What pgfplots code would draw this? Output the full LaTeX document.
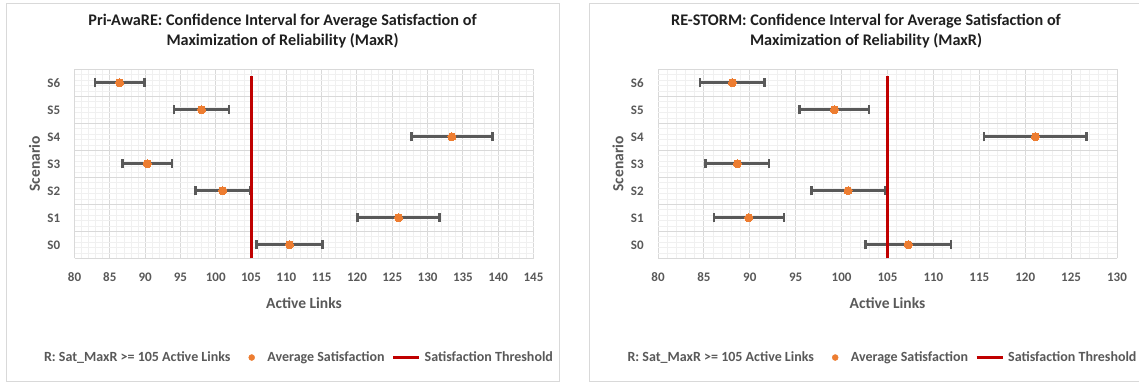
\documentclass[border=0pt]{standalone}
\usepackage{pgfplots}
\pgfplotsset{compat=1.18}
\usepackage{pgfplotstable}
\usepackage{fontspec}
\setmainfont{Carlito}

\definecolor{txtgray}{HTML}{595959}
\definecolor{titletxt}{HTML}{1F1F1F}
\definecolor{gridmaj}{HTML}{D9D9D9}
\definecolor{gridmin}{HTML}{F0F0F0}
\definecolor{dotorange}{HTML}{ED7D31}
\definecolor{threshred}{HTML}{C00000}
\definecolor{barsgray}{HTML}{595959}
\definecolor{framegray}{HTML}{D9D9D9}

% scenario position, mean, half width of the confidence interval
\pgfplotstableread{
y   m       h
0.5 110.45  4.65
1.5 125.9   5.8
2.5 101.0   3.9
3.5 90.3    3.5
4.5 133.45  5.75
5.5 98.0    3.9
6.5 86.4    3.5
}\priaware

\pgfplotstableread{
y   m       h
0.5 107.25  4.65
1.5 89.9    3.8
2.5 100.7   4.0
3.5 88.65   3.45
4.5 121.1   5.6
5.5 99.2    3.8
6.5 88.1    3.5
}\restorm

\pgfplotsset{
  cichart/.style={
    scale only axis, width=459pt, height=189pt,
    anchor=south west,
    ymin=0, ymax=7, xmin=80,
    axis line style={draw=none},
    major tick length=0pt, minor tick length=0pt,
    xtick distance=5, minor x tick num=4,
    xmajorgrids, xminorgrids, yminorgrids,
    major grid style={gridmaj, line width=1pt},
    minor grid style={gridmin, line width=0.8pt},
    ytick={0.5,1.5,2.5,3.5,4.5,5.5,6.5},
    yticklabels={S0,S1,S2,S3,S4,S5,S6},
    extra y ticks={0,1,2,3,4,5,6,7},
    extra y tick labels={},
    extra y tick style={grid=major},
    minor ytick={0.2,0.4,0.6,0.8,1.2,1.4,1.6,1.8,2.2,2.4,2.6,2.8,3.2,3.4,3.6,3.8,4.2,4.4,4.6,4.8,5.2,5.4,5.6,5.8,6.2,6.4,6.6,6.8},
    /pgf/number format/assume math mode=true,
    tick label style={font=\fontsize{13}{13}\selectfont\bfseries, text=txtgray},
    xticklabel style={anchor=center, yshift=-19pt},
    yticklabel style={anchor=center, xshift=-20.7pt},
    xlabel={Active Links},
    ylabel={Scenario},
    label style={font=\fontsize{15.5}{15.5}\selectfont\bfseries, text=txtgray},
    xlabel style={at={(axis description cs:0.5,-0.2365)}, anchor=center},
    ylabel style={at={(axis description cs:-0.0871,0.5)}, anchor=center},
    title style={at={(axis description cs:0.4532,1.171)}, anchor=center,
      align=center, font=\fontsize{16.2}{20}\selectfont\bfseries, text=titletxt},
    legend columns=3,
    legend style={at={(axis description cs:0.488,-0.525)}, anchor=center,
      draw=none, fill=none, font=\fontsize{14}{14}\selectfont\bfseries, text=txtgray,
      nodes={inner sep=0pt},
      /tikz/column 1/.style={column sep=0pt},
      /tikz/column 2/.style={column sep=18pt},
      /tikz/column 3/.style={column sep=12.5pt},
      /tikz/column 4/.style={column sep=7pt},
      /tikz/column 5/.style={column sep=4pt}},
  },
  cibars/.style={
    only marks, mark=none, forget plot,
    error bars/.cd, x dir=both, x explicit,
    error bar style={line width=3pt, barsgray},
    error mark options={barsgray, line width=2.5pt, mark size=4.5pt, rotate=90},
  },
  cidots/.style={only marks, color=dotorange, mark=*, mark size=4pt,
    mark options={fill=dotorange, draw=dotorange, line width=0pt}, forget plot},
}

\newcommand{\cilegend}{%
  \addlegendimage{empty legend}
  \addlegendentry{R: Sat\_MaxR >= 105 Active Links}
  \addlegendimage{legend image code/.code={\fill[dotorange] (0pt,0pt) circle (3pt);}}
  \addlegendentry{Average Satisfaction}
  \addlegendimage{legend image code/.code={\draw[threshred, line width=3pt] (0pt,0pt) -- (26pt,0pt);}}
  \addlegendentry{Satisfaction Threshold}
}

\begin{document}
\begin{tikzpicture}
\useasboundingbox (0pt,0pt) rectangle (1139pt,383pt);
\fill[white] (0pt,0pt) rectangle (1139pt,383pt);
\draw[framegray, line width=1pt] (6pt,1.5pt) rectangle (559pt,379.5pt);
\draw[framegray, line width=1pt] (589pt,1.5pt) rectangle (1145pt,379.5pt);

\begin{axis}[cichart, at={(74.5pt,124.7pt)}, xmax=145,
  title={Pri-AwaRE: Confidence Interval for Average Satisfaction of\\Maximization of Reliability (MaxR)}]
  \addplot[cibars] table[x=m, y=y, x error=h] {\priaware};
  \addplot[cidots] table[x=m, y=y] {\priaware};
  \addplot[threshred, line width=3pt, forget plot] coordinates {(105,0) (105,6.75)};
  \cilegend
\end{axis}

\begin{axis}[cichart, at={(658pt,124.7pt)}, xmax=130,
  title={RE-STORM: Confidence Interval for Average Satisfaction of\\Maximization of Reliability (MaxR)}]
  \addplot[cibars] table[x=m, y=y, x error=h] {\restorm};
  \addplot[cidots] table[x=m, y=y] {\restorm};
  \addplot[threshred, line width=3pt, forget plot] coordinates {(105,0) (105,6.75)};
  \cilegend
\end{axis}
\end{tikzpicture}
\end{document}
